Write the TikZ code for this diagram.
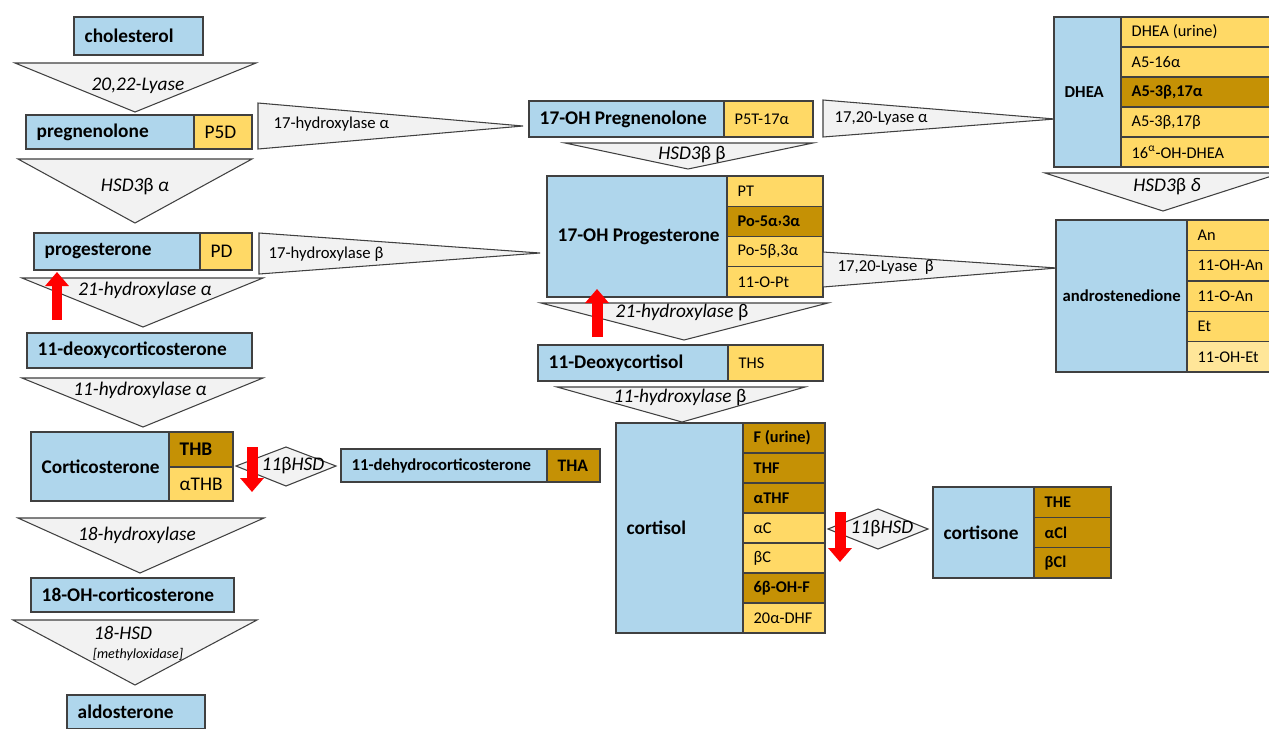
\documentclass[tikz,border=0pt]{standalone}
\usepackage{fontspec}
\setmainfont{Carlito}
\usepackage{tikz}
\usetikzlibrary{arrows.meta}
\definecolor{cblue}{RGB}{175,214,236}
\definecolor{cyel}{RGB}{255,217,102}
\definecolor{cgold}{RGB}{197,145,5}
\definecolor{clight}{RGB}{255,230,153}
\definecolor{cgray}{RGB}{242,242,242}
\definecolor{cedge}{RGB}{64,64,64}

% one box of the scheme: name, corners, style, text
\newcommand{\cell}[7]{%
  \draw[#6] (#2,#3) rectangle (#4,#5);
  \node[#6,draw=none,anchor=west,inner sep=0pt] (#1) at ({#2+10},{(#3+#5)/2}) {#7};}

\begin{document}
\begin{tikzpicture}[x=0.02cm,y=-0.02cm,line width=0.8pt,
  blu/.style={draw=cedge,fill=cblue,font=\bfseries\fontsize{11}{13}\selectfont},
  yel/.style={draw=cedge,fill=cyel,font=\fontsize{9.3}{11}\selectfont},
  gld/.style={draw=cedge,fill=cgold,font=\bfseries\fontsize{9.3}{11}\selectfont},
  pale/.style={draw=cedge,fill=clight,font=\fontsize{9.3}{11}\selectfont},
  big/.style={font=\fontsize{11}{13}\selectfont},
  enz/.style={draw=cedge,fill=cgray,line width=0.6pt},
  enzlab/.style={font=\itshape\fontsize{11}{13}\selectfont,inner sep=0pt},
  hydlab/.style={font=\fontsize{9.5}{11}\selectfont,anchor=west,inner sep=0pt},
  redarr/.style={draw=red,line width=0.22cm,-{Triangle[width=0.46cm,length=0.28cm]}}]

\useasboundingbox (0,0) rectangle (1269,728);
\clip (0,0) rectangle (1269,728);
\fill[white] (0,0) rectangle (1269,728);

% left column
\cell{chol}{74}{17}{203}{55}{blu}{cholesterol}
\draw[enz] (15,63) -- (256,63) -- (135,112) -- cycle;
\node[enzlab] (lyase) at (138,86) {20,22-Lyase};

\cell{preg}{26}{115}{194}{149}{blu}{pregnenolone}
\cell{pfd}{194}{115}{252}{149}{yel,big}{P5D}
\draw[enz] (18,159) -- (252,159) -- (135,223) -- cycle;
\node[enzlab] (hsda) at (135,187) {HSD3\textup{β} α};

\cell{prog}{34}{233}{200}{270}{blu}{progesterone}
\cell{pd}{200}{233}{252}{270}{yel,big}{PD}
\draw[enz] (22,278) -- (263,278) -- (143,327) -- cycle;
\node[enzlab] (hyda) at (145,290) {21-hydroxylase α};

\cell{doc}{27}{333}{252}{368}{blu}{11-deoxycorticosterone}
\draw[enz] (22,378) -- (263,378) -- (143,427) -- cycle;
\node[enzlab] (elfa) at (140,390) {11-hydroxylase α};

\cell{cort}{31}{432}{169}{501}{blu}{Corticosterone}
\cell{thb}{169}{432}{233}{467}{gld,font=\bfseries\fontsize{11}{13}\selectfont}{THB}
\cell{athb}{169}{467}{233}{501}{yel,big}{αTHB}

\draw[enz] (18,518) -- (264,518) -- (140,573) -- cycle;
\node[enzlab] (eighth) at (137,535) {18-hydroxylase};

\cell{ohc}{31}{578}{234}{612}{blu}{18-OH-corticosterone}
\draw[enz] (13,620) -- (257,620) -- (135,685) -- cycle;
\node[enzlab] (hsd) at (123,633) {18-HSD};
\node[enzlab,font=\itshape\fontsize{8}{10}\selectfont] (mox) at (138,655) {[methyloxidase]};

\cell{aldo}{67}{695}{205}{729}{blu}{aldosterone}

% 11-dehydrocorticosterone
\draw[enz] (236,466) -- (286,447) -- (336,466) -- (286,486) -- cycle;
\node[enzlab] (hsdb) at (293,466) {11\textup{β}HSD};
\cell{dhc}{341}{449}{547}{482}{blu,font=\bfseries\fontsize{9.5}{11}\selectfont}{11-dehydrocorticosterone}
\cell{tha}{547}{449}{600}{482}{gld,font=\bfseries\fontsize{10}{12}\selectfont}{THA}

% middle column
\draw[enz] (258,103) -- (523,126) -- (258,149) -- cycle;
\node[hydlab] (hyd17a) at (273,124) {17-hydroxylase α};
\cell{ohpreg}{529}{101}{724}{137}{blu}{17-OH Pregnenolone}
\cell{pft}{724}{101}{813}{137}{yel}{P5T-17α}
\draw[enz] (565,143) -- (813,143) -- (688,169) -- cycle;
\node[enzlab] (hsdbb) at (692,155) {HSD3\textup{β β}};

\draw[enz] (259,233) -- (540,253) -- (259,274) -- cycle;
\node[hydlab] (hyd17b) at (268,254) {17-hydroxylase β};
\cell{ohprog}{547}{176}{727}{297}{blu}{17-OH Progesterone}
\foreach \t/\s [count=\i from 0] in {PT/yel,{Po-5α\raisebox{0.4ex}{,}3α}/gld,{Po-5β,3α}/yel,11-O-Pt/yel}
  \cell{pt\i}{727}{176+30.25*\i}{823}{206.25+30.25*\i}{\s}{\t};

\draw[enz] (541,303) -- (828,303) -- (684,340) -- cycle;
\node[enzlab] (hydb) at (682,312) {21-hydroxylase \textup{β}};
\cell{dox}{538}{345}{728}{381}{blu}{11-Deoxycortisol}
\cell{ths}{728}{345}{823}{381}{yel}{THS}
\draw[enz] (557,387) -- (805,387) -- (682,422) -- cycle;
\node[enzlab] (elfb) at (680,397) {11-hydroxylase \textup{β}};

\cell{cortisol}{616}{423}{743}{633}{blu}{cortisol}
\foreach \t/\s [count=\i from 0] in {F (urine)/gld,THF/gld,αTHF/gld,αC/yel,βC/yel,6β-OH-F/gld,20α-DHF/yel}
  \cell{f\i}{743}{423+30*\i}{825}{453+30*\i}{\s}{\t};

% cortisone
\draw[enz] (828,529) -- (878,509) -- (928,529) -- (878,549) -- cycle;
\node[enzlab] (hsdc) at (882,529) {11\textup{β}HSD};
\cell{cortisone}{933}{487}{1034}{578}{blu}{cortisone}
\foreach \t [count=\i from 0] in {THE,αCl,βCl}
  \cell{e\i}{1034}{487+30.33*\i}{1111}{517.33+30.33*\i}{gld}{\t};

% right column
\draw[enz] (823,100) -- (1055,119) -- (823,137) -- cycle;
\node[hydlab] (lya) at (834,118) {17,20-Lyase α};
\cell{dhea}{1054}{17}{1121}{167}{blu,font=\bfseries\fontsize{9.5}{11}\selectfont}{DHEA}
\foreach \t/\s [count=\i from 0] in {DHEA (urine)/yel,A5-16α/yel,{A5-3β,17α}/gld,{A5-3β,17β}/yel,16\textsuperscript{α}-OH-DHEA/yel}
  \cell{d\i}{1121}{17+30*\i}{1290}{47+30*\i}{\s}{\t};

\draw[enz] (1045,173) -- (1281,173) -- (1163,211) -- cycle;
\node[enzlab] (hsdd) at (1167,187) {HSD3\textup{β} δ};

\draw[enz] (823,252) -- (1057,268) -- (823,287) -- cycle;
\node[hydlab] (lyb) at (837,267) {17,20-Lyase \ β};
\draw[blu] (1056,220) rectangle (1187,372);
\node[blu,draw=none,anchor=west,inner sep=0pt,font=\bfseries\fontsize{9.5}{11}\selectfont] (andro) at (1062,296) {androstenedione};
\foreach \t/\s [count=\i from 0] in {An/yel,11-OH-An/yel,11-O-An/yel,Et/yel,11-OH-Et/pale}
  \cell{a\i}{1187}{220+30.4*\i}{1290}{250.4+30.4*\i}{\s}{\t};

% red arrows
\draw[redarr] (57,320) -- (57,272);
\draw[redarr] (597,337) -- (597,289);
\draw[redarr] (252,447) -- (252,492);
\draw[redarr] (840,512) -- (840,562);

\end{tikzpicture}
\end{document}
